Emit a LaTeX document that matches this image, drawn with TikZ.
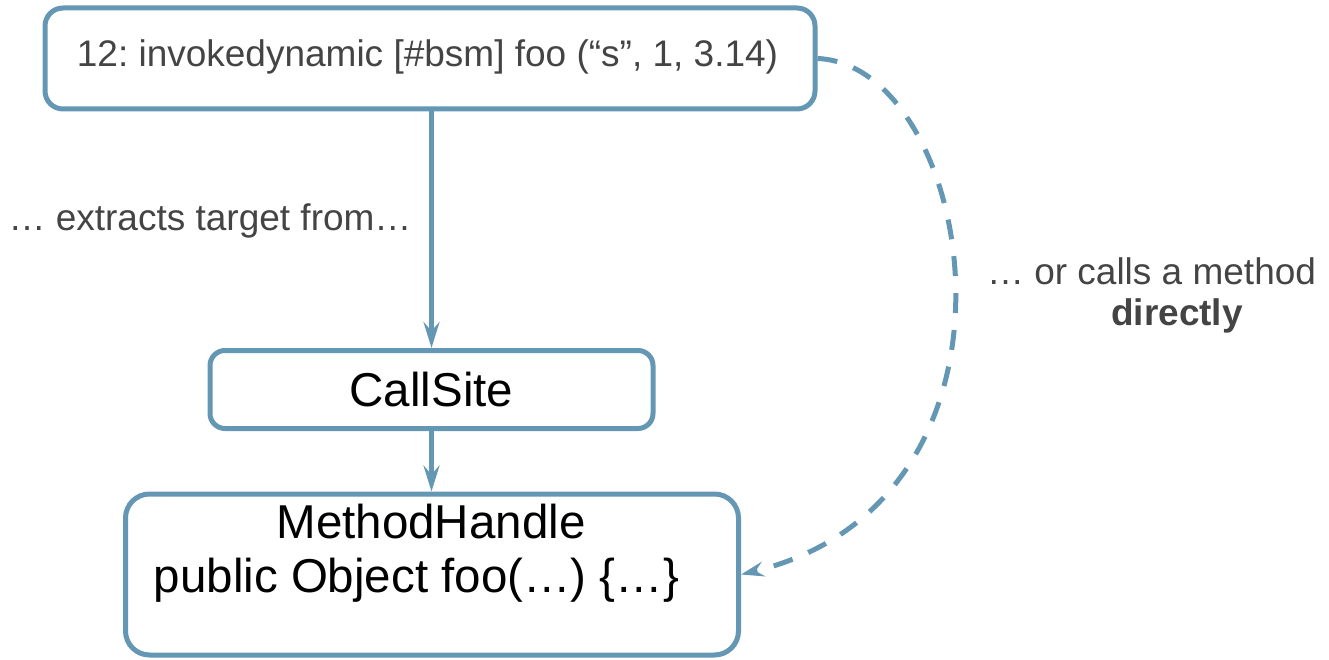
\documentclass[tikz,border=0pt]{standalone}
\usepackage{fontspec}
\setmainfont{Liberation Sans}
\usetikzlibrary{arrows.meta}
\definecolor{flow}{HTML}{6497B4}
\definecolor{note}{HTML}{444444}
\frenchspacing
\begin{document}
\begin{tikzpicture}[x=1pt,y=-1pt,
  box/.style={draw=flow, line width=5pt, fill=white, inner sep=0pt},
  small/.style={font=\fontsize{37}{44}\selectfont\frenchspacing, text=note, inner sep=0pt},
  big/.style={font=\fontsize{47.5}{56}\selectfont\frenchspacing, text=black, inner sep=0pt},
  link/.style={draw=flow, line width=4.5pt, -{Stealth[length=26pt,width=16pt,inset=9pt]}},
  dlink/.style={draw=flow, line width=5pt, dash pattern=on 20pt off 17pt,
    -{Stealth[length=23pt,width=15pt,inset=8pt]}},
]
\useasboundingbox (0,0) rectangle (1329,660);

% boxes
\node[box, rounded corners=18pt, minimum width=770pt, minimum height=101pt] (top) at (430,58.5) {};
\node[small, anchor=base] (toptext) at (427.5,67) {12: invokedynamic [\#bsm] foo (“s”, 1, 3.14)};

\node[box, big, rounded corners=15pt, minimum width=443pt, minimum height=78pt] (cs) at (431.5,389.5) {CallSite};

\node[box, rounded corners=24pt, minimum width=613pt, minimum height=161pt] (mh) at (432,574.5) {};
\node[big, anchor=base] (mhname) at (431,538) {MethodHandle};
\node[big, anchor=base] (mhsig) at (416.5,592) {public Object foo(…) \{…\}};

% labels
\node[small, anchor=base] (extract) at (210,230) {… extracts target from…};
\node[small, anchor=base] (direct1) at (1151.5,284) {… or calls a method};
\node[small, anchor=base, font=\fontsize{37}{44}\selectfont\bfseries] (direct2) at (1177,325) {directly};

% connectors
\draw[link] (top.south -| cs.north) -- (cs.north);
\draw[link] (cs.south) -- (cs.south |- mh.north);
\coordinate (c1) at (975,65);
\coordinate (c2) at (1050,500);
\draw[dlink] (top.east) .. controls (c1) and (c2) .. (mh.east);
\end{tikzpicture}
\end{document}
